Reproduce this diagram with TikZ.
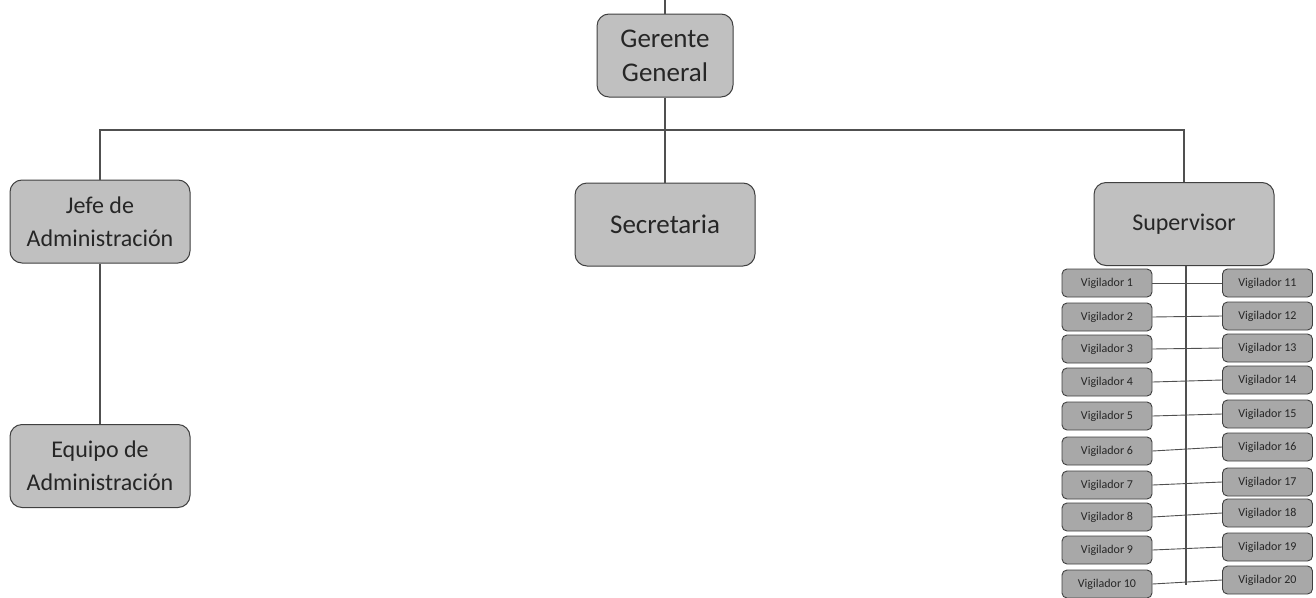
\documentclass[tikz,border=0pt]{standalone}
\usepackage{fontspec}
\setmainfont{Carlito}
\definecolor{boxfill}{HTML}{C0C0C0}
\definecolor{smallfill}{HTML}{A8A8A8}
\definecolor{boxline}{HTML}{404040}
\definecolor{conn}{HTML}{505050}
\begin{document}
\begin{tikzpicture}[x=1pt,y=-1pt,
  bigbox/.style={draw=boxline,fill=boxfill,line width=1pt,rounded corners=12pt,
    minimum width=180pt,minimum height=83pt,align=center,inner sep=0pt,
    font=\fontsize{24}{33}\selectfont,text=black!85},
  smallbox/.style={draw=boxline,fill=smallfill,line width=0.9pt,rounded corners=5pt,
    minimum width=90pt,minimum height=28pt,inner sep=0pt,
    font=\fontsize{12}{14}\selectfont,text=black!85},
  link/.style={draw=conn,line width=1.1pt}]
\useasboundingbox (0,0) rectangle (1316,597);
% top
\coordinate (topend) at (665,0);
\node[bigbox,minimum width=136pt,font=\fontsize{27}{34}\selectfont] (gg) at (665,55.5) {Gerente\\General};
\node[bigbox] (jefe) at (100,221.5) {Jefe de\\Administración};
\node[bigbox] (equipo) at (100,466) {Equipo de\\Administración};
\node[bigbox,font=\fontsize{27}{34}\selectfont] (sec) at (665,224.5) {Secretaria};
\node[bigbox] (sup) at (1184,224) {Supervisor};
\coordinate (bus) at (665,130);
\coordinate (spineend) at (1186,585);
% vigiladores
\foreach \i/\y in {1/283,2/317,3/349,4/382,5/416,6/451,7/485,8/517,9/550,10/584}{
  \node[smallbox] (vL\i) at (1107,\y) {Vigilador \i};
}
\foreach \i/\y in {11/283,12/316,13/348,14/380,15/414,16/447,17/482,18/513,19/547,20/580}{
  \node[smallbox] (vR\i) at (1267.5,\y) {Vigilador \i};
}
% connectors
\draw[link] (topend) -- (gg.north);
\draw[link] (gg.south) -- (sec.north);
\draw[link] (jefe.north) -- (jefe.north |- bus) -- (sup.north |- bus) -- (sup.north);
\draw[link] (jefe.south) -- (equipo.north);
\draw[link] ([xshift=2pt]sup.south) -- (spineend);
\foreach \a/\b in {1/11,2/12,3/13,4/14,5/15,6/16,7/17,8/18,9/19,10/20}{
  \draw[link,line width=0.9pt] (vL\a.east) -- (vR\b.west);
}
\end{tikzpicture}
\end{document}
